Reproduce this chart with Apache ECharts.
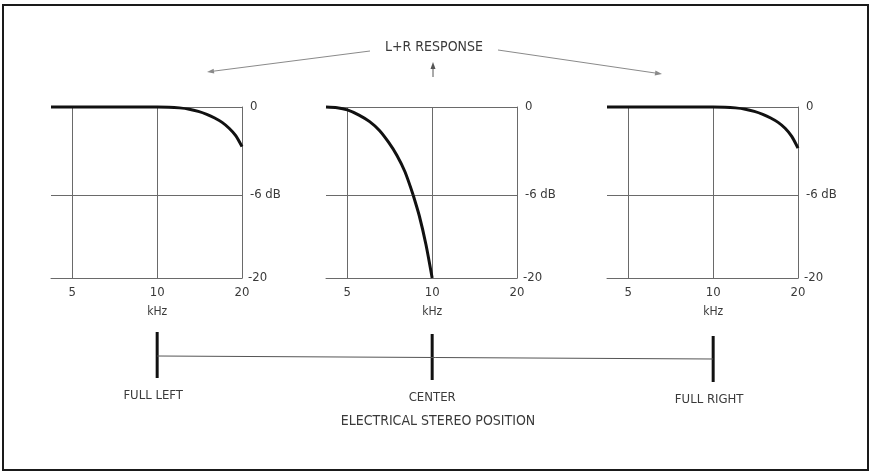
<!DOCTYPE html>
<html><head><meta charset="utf-8">
<script src="https://cdn.jsdelivr.net/npm/echarts@6/dist/echarts.min.js"></script>
<style>html,body{margin:0;padding:0;background:#fff}#c{width:871px;height:473px}</style>
</head><body><div id="c"></div>
<script>
// ---- data ----
const freqTicks = [5, 10, 20];
const dbUpperTicks = [0, -6];
const dbLowerTicks = [-20];
const positionLabels = ['FULL LEFT', 'CENTER', 'FULL RIGHT'];
const freqMin = 4.2, freqMax = 20;

const leftFreq = [4.2, 10, 11, 12, 13, 14, 15, 16, 17, 18, 19, 20];
const leftDb   = [0, 0, -0.01, -0.06, -0.15, -0.3, -0.5, -0.75, -1.05, -1.45, -1.95, -2.7];
const centerFreqUpper = [4.2, 4.6, 5, 5.5, 6, 6.5, 7, 7.5, 8, 8.56];
const centerDbUpper   = [0, -0.05, -0.2, -0.55, -1.0, -1.6, -2.4, -3.3, -4.4, -6];
const centerFreqLower = [8.56, 9, 9.5, 10];
const centerDbLower   = [-6, -9.5, -14.3, -20];
const rightFreq = [4.2, 10, 11, 12, 13, 14, 15, 16, 17, 18, 19, 20];
const rightDb   = [0, 0, -0.01, -0.06, -0.15, -0.3, -0.5, -0.75, -1.05, -1.45, -2.0, -2.8];

// ---- layout ----
const FONT = '"DejaVu Sans Condensed", "Liberation Sans Narrow", sans-serif';
const TXT = '#3a3a3a';
const GRIDC = '#6a6a6a';
const panelLeft = [51, 326, 607];
const panelW = 191;
const upTop = 107, upH = 88, loTop = 195, loH = 83;

const grids = [], xAxes = [], yAxes = [], series = [];
function zip(a, b){ return a.map((v,i)=>[v,b[i]]); }

panelLeft.forEach((L, p) => {
  grids.push({left: L, top: upTop, width: panelW, height: upH});
  grids.push({left: L, top: loTop, width: panelW, height: loH});
  const gU = 2*p, gL = 2*p+1;
  const xBase = {type:'log', logBase:2, min:freqMin, max:freqMax};
  xAxes.push(Object.assign({}, xBase, {gridIndex:gU,
    axisLine:{show:false}, axisTick:{show:false, customValues:freqTicks},
    axisLabel:{show:false, customValues:freqTicks},
    splitLine:{show:true, lineStyle:{color:GRIDC, width:1}}}));
  xAxes.push(Object.assign({}, xBase, {gridIndex:gL,
    axisLine:{show:true, lineStyle:{color:GRIDC, width:1}},
    axisTick:{show:false, customValues:freqTicks},
    axisLabel:{show:true, customValues:freqTicks, margin:8, color:TXT, fontFamily:FONT, fontSize:13},
    splitLine:{show:true, lineStyle:{color:GRIDC, width:1}}}));
  yAxes.push({type:'value', gridIndex:gU, position:'right', min:-6, max:0, interval:6,
    axisLine:{show:true, lineStyle:{color:GRIDC, width:1}}, axisTick:{show:false},
    axisLabel:{margin:8, color:TXT, fontFamily:FONT, fontSize:13, customValues:dbUpperTicks,
      formatter: v => v === 0 ? '0' : v + ' dB'},
    splitLine:{show:true, lineStyle:{color:GRIDC, width:1}}});
  yAxes.push({type:'value', gridIndex:gL, position:'right', min:-20, max:-6,
    axisLine:{show:true, lineStyle:{color:GRIDC, width:1}}, axisTick:{show:false, customValues:dbLowerTicks},
    axisLabel:{margin:6, color:TXT, fontFamily:FONT, fontSize:13, customValues:dbLowerTicks},
    splitLine:{show:false}});
});

const curveStyle = {type:'line', symbol:'none', smooth:0.25, clip:false,
  lineStyle:{color:'#111', width:3}, silent:true};
series.push(Object.assign({}, curveStyle, {xAxisIndex:0, yAxisIndex:0, data:zip(leftFreq, leftDb)}));
series.push(Object.assign({}, curveStyle, {xAxisIndex:2, yAxisIndex:2, data:zip(centerFreqUpper, centerDbUpper)}));
series.push(Object.assign({}, curveStyle, {xAxisIndex:3, yAxisIndex:3, data:zip(centerFreqLower, centerDbLower)}));
series.push(Object.assign({}, curveStyle, {xAxisIndex:4, yAxisIndex:4, data:zip(rightFreq, rightDb)}));

const chart = echarts.init(document.getElementById('c'), null, {renderer:'canvas'});
chart.setOption({
  backgroundColor:'#fff', animation:false,
  grid: grids, xAxis: xAxes, yAxis: yAxes, series: series
});

// ---- annotations ----
function arrow(x1,y1,x2,y2,color){
  const a = Math.atan2(y2-y1, x2-x1), len = 7, w = 2.5;
  const bx = x2 - len*Math.cos(a), by = y2 - len*Math.sin(a);
  const nx = -Math.sin(a)*w, ny = Math.cos(a)*w;
  return [
    {type:'line', shape:{x1,y1,x2:bx,y2:by}, style:{stroke:color, lineWidth:1}},
    {type:'polygon', shape:{points:[[x2,y2],[bx+nx,by+ny],[bx-nx,by-ny]]}, style:{fill:color}}
  ];
}
const g = [];
g.push({type:'rect', shape:{x:3, y:5, width:865, height:465}, style:{fill:null, stroke:'#1a1a1a', lineWidth:2}});
g.push({type:'text', style:{text:'L+R RESPONSE', x:434, y:47, align:'center', verticalAlign:'middle',
  font:'14px ' + FONT, fill:TXT}});
g.push(...arrow(370, 51, 207, 72, '#8a8a8a'));
g.push(...arrow(498, 50, 662, 74, '#8a8a8a'));
g.push(...arrow(433, 77, 433, 62, '#555'));

const barX = [];
for (let p = 0; p < 3; p++) {
  const px = chart.convertToPixel({xAxisIndex: 2*p+1}, 10);
  barX.push(px);
  g.push({type:'text', style:{text:'kHz', x:px, y:312, align:'center', verticalAlign:'middle',
    font:'12px ' + FONT, fill:TXT}});
  g.push({type:'line', shape:{x1:px, y1:332+p*2, x2:px, y2:378+p*2}, style:{stroke:'#111', lineWidth:3}});
  g.push({type:'text', style:{text:positionLabels[p], x:px - (p===0?4:(p===2?4:0)), y:396+p*2, align:'center', verticalAlign:'middle',
    font:'13px ' + FONT, fill:TXT}});
}
g.push({type:'line', shape:{x1:barX[0], y1:356, x2:barX[2], y2:359}, style:{stroke:'#555', lineWidth:1}});
g.push({type:'text', style:{text:'ELECTRICAL STEREO POSITION', x:438, y:421, align:'center', verticalAlign:'middle',
  font:'14px ' + FONT, fill:TXT}});
chart.setOption({graphic: g});
</script></body></html>
